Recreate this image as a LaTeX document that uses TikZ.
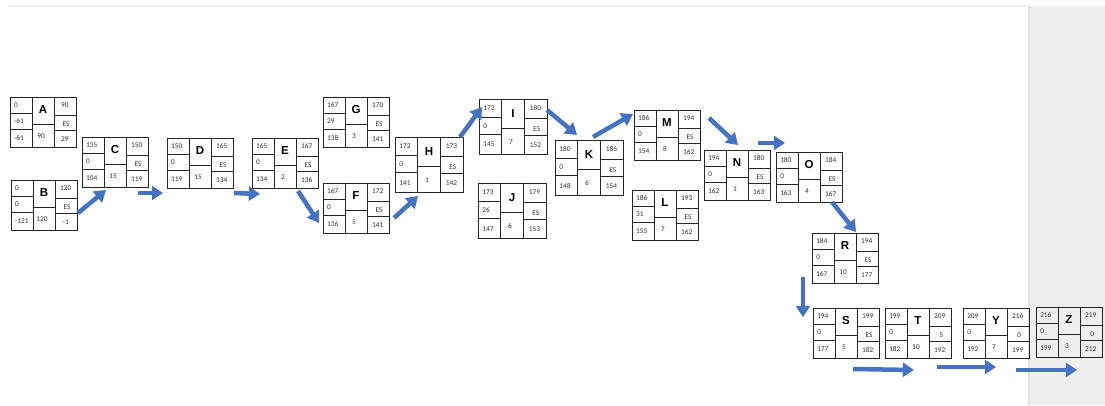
\documentclass[tikz,border=0pt]{standalone}
\usepackage{fontspec}
\setmainfont{Carlito}
\newfontfamily\lettfont{Liberation Sans}
\usetikzlibrary{arrows.meta}
\definecolor{flowblue}{HTML}{4472C4}
\definecolor{panelgray}{HTML}{EFEFEF}

% activity box: name, scope options, left column (3), duration, right column (3)
\newcommand{\actbox}[9]{%
    \begin{scope}[#2, local bounding box=#1]
        \draw[cell] (0,0) rectangle (1,1);
        \draw[cell] (0.333,0) -- (0.333,1) (0.667,0) -- (0.667,1);
        \draw[cell] (0,0.33) -- (0.333,0.33) (0,0.65) -- (0.333,0.65);
        \draw[cell] (0.333,0.54) -- (0.667,0.54);
        \draw[cell] (0.667,0.36) -- (1,0.36) (0.667,0.66) -- (1,0.66);
        \node[num, anchor=west] (#1tl) at (0.06,0.17) {#3};
        \node[num, anchor=west] (#1ml) at (0.06,0.49) {#4};
        \node[num, anchor=west] (#1bl) at (0.06,0.83) {#5};
        \node[lett] (#1nm) at (0.5,0.26) {#1};
        \node[num] (#1du) at (0.47,0.78) {#6};
        \node[num] (#1tr) at (0.83,0.17) {#7};
        \node[num] (#1es) at (0.85,0.55) {#8};
        \node[num] (#1br) at (0.83,0.84) {#9};
    \end{scope}}

\begin{document}
\begin{tikzpicture}[x=0.025cm, y=-0.025cm]
    \tikzstyle{cell}=[draw=black!85, line width=0.6pt]
    \tikzstyle{num}=[inner sep=0pt, text=black!80, font=\fontsize{5.2}{6}\selectfont]
    \tikzstyle{lett}=[inner sep=0pt, font=\lettfont\bfseries\fontsize{8.2}{9}\selectfont]
    \tikzstyle{box}=[x=1.65cm, y=-1.25cm]
    \tikzstyle{bigbox}=[x=1.7cm, y=-1.375cm]
    \tikzstyle{flow}=[draw=flowblue, line width=3.2pt, -{Triangle[length=8pt,width=10pt]}]

    % page background
    \fill[white] (0,0) rectangle (1105,405);
    \fill[panelgray] (1029,6) rectangle (1105,405);
    \draw[black!12, line width=0.8pt] (1029,6) -- (1029,405);
    \draw[black!6, line width=0.8pt] (8,6) -- (1029,6);

    % activities
    \actbox{A}{shift={(10,97)},box}{0}{-61}{-61}{90}{90}{ES}{29}
    \actbox{B}{shift={(11,180)},box}{0}{0}{-121}{120}{120}{ES}{-1}
    \actbox{C}{shift={(82,137)},box}{135}{0}{104}{15}{150}{ES}{119}
    \actbox{D}{shift={(167,138)},box}{150}{0}{119}{15}{165}{ES}{134}
    \actbox{E}{shift={(252,138)},box}{165}{0}{134}{2}{167}{ES}{136}
    \actbox{G}{shift={(323,97)},box}{167}{29}{138}{3}{170}{ES}{141}
    \actbox{F}{shift={(323,183)},box}{167}{0}{136}{5}{172}{ES}{141}
    \actbox{H}{shift={(395,137)},bigbox}{172}{0}{141}{1}{173}{ES}{142}
    \actbox{I}{shift={(479,99)},bigbox}{173}{0}{145}{7}{180}{ES}{152}
    \actbox{J}{shift={(478,183)},bigbox}{173}{26}{147}{6}{179}{ES}{153}
    \actbox{K}{shift={(555,140)},bigbox}{180}{0}{148}{6}{186}{ES}{154}
    \actbox{M}{shift={(634,110)},box}{186}{0}{154}{8}{194}{ES}{162}
    \actbox{L}{shift={(632,190)},box}{186}{31}{155}{7}{193}{ES}{162}
    \actbox{N}{shift={(704,150)},box}{194}{0}{162}{1}{180}{ES}{163}
    \actbox{O}{shift={(776,152)},box}{180}{0}{163}{4}{184}{ES}{167}
    \actbox{R}{shift={(812,233)},box}{184}{0}{167}{10}{194}{ES}{177}
    \actbox{S}{shift={(813,308)},box}{194}{0}{177}{5}{199}{ES}{182}
    \actbox{T}{shift={(885,308)},box}{199}{0}{182}{10}{209}{5}{192}
    \actbox{Y}{shift={(963,308)},box}{209}{0}{192}{7}{216}{0}{199}
    \actbox{Z}{shift={(1036,307)},box}{216}{0}{199}{3}{219}{0}{212}

    % flow arrows
    \draw[flow] ([shift={(1,8)}]B.east) -- ([shift={(-9,3)}]C.south);
    \draw[flow] ([shift={(-10,6)}]C.south east) -- ([shift={(-4,5)}]D.south west);
    \draw[flow] ([shift={(1,5)}]D.south east) -- ([shift={(8,6)}]E.south west);
    \draw[flow] ([shift={(-20,3)}]E.south east) -- ([shift={(-4,15)}]F.west);
    \draw[flow] ([shift={(5,10)}]F.east) -- ([shift={(-11,4)}]H.south);
    \draw[flow] ([shift={(-3,0)}]H.north east) -- ([shift={(3,8)}]I.north west);
    \draw[flow] ([shift={(0,11)}]I.north east) -- ([shift={(-12,-5)}]K.north);
    \draw[flow] ([shift={(4,-3)}]K.north) -- ([shift={(-1,4)}]M.north west);
    \draw[flow] ([shift={(9,8)}]M.north east) -- ([shift={(1,-5)}]N.north);
    \draw[flow] ([shift={(-12,-7)}]N.north east) -- ([shift={(9,-9)}]O.north west);
    \draw[flow] ([shift={(23,0)}]O.south) -- ([shift={(11,-1)}]R.north);
    \draw[flow] ([shift={(-9,-6)}]R.south west) -- ([shift={(-10,-16)}]S.west);
    \draw[flow] ([shift={(7,11)}]S.south) -- ([shift={(-4,12)}]T.south);
    \draw[flow] ([shift={(-14,9)}]T.south east) -- ([shift={(0,9)}]Y.south);
    \draw[flow] ([shift={(-13,12)}]Y.south east) -- ([shift={(8,13)}]Z.south);

    \useasboundingbox (0,0) rectangle (1105,405);
\end{tikzpicture}
\end{document}
